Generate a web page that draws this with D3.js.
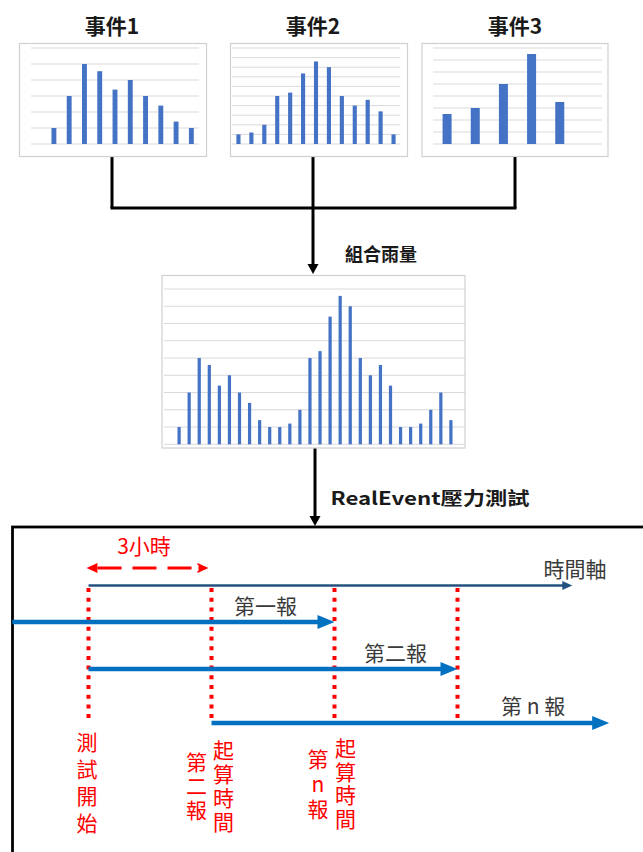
<!DOCTYPE html>
<html>
<head>
<meta charset="utf-8">
<script src="https://cdn.jsdelivr.net/npm/d3@7"></script>
<style>
  body { margin: 0; background: #fff; }
  svg { display: block; font-family: "Noto Sans CJK TC", "Noto Sans", sans-serif; }
</style>
</head>
<body>
<div id="chart"></div>
<script>
// ---------------------------------------------------------------------------
// Data

// rainfall per time step (grid units)
const event1Values = [0, 1, 3, 5, 4.55, 3.4, 4, 3, 2.4, 1.4, 1];
const event2Values = [1, 1.2, 2, 5, 5.35, 7.35, 8.6, 8, 5, 4, 4.6, 3.4, 1];
const event3Values = [2.5, 3, 5, 7.5, 3.5, 0];
const combinedValues = [0, 1, 3, 5, 4.6, 3.4, 4, 3, 2.4, 1.4, 1,
  1, 1.2, 2, 5, 5.4, 7.4, 8.6, 8, 5, 4, 4.6, 3.4,
  1, 1, 1.2, 2, 3, 1.4, 0];

const eventTitles = ['事件1', '事件2', '事件3'];
const eventGridMax = [6, 10, 8];
const combinedGridMax = 9;

// timeline (hours since test start)
const markerHours = [0, 3, 6, 9];
const axisEndHour = 11.8;
const reportLabels = ['第一報', '第二報', '第 n 報'];
const reportStartHours = [-1.86, 0, 3];
const reportEndHours = [6, 9, 12.7];
const markerNotes = [['測試開始'], ['第二報', '起算時間'], ['第n報', '起算時間'], []];

// ---------------------------------------------------------------------------
// Setup

const width = 643;
const height = 852;
const barColor = '#4472c4';
const gridColor = '#d9d9d9';
const red = '#ff0000';

const svg = d3.select('#chart').append('svg')
  .attr('width', width)
  .attr('height', height);

// ---------------------------------------------------------------------------
// Helpers

function barChart(values, gridMax, box, plot) {
  const g = svg.append('g');

  g.append('rect')
    .attr('x', box.x).attr('y', box.y)
    .attr('width', box.w).attr('height', box.h)
    .attr('fill', '#fff')
    .attr('stroke', '#d0d0d0')
    .attr('stroke-width', 1.2);

  const y = d3.scaleLinear().domain([0, gridMax]).range([plot.y1, plot.y0]);
  const x = d3.scaleBand()
    .domain(d3.range(values.length))
    .range([plot.x0, plot.x1])
    .paddingInner(0.68)
    .paddingOuter(0.34);

  g.selectAll('line.grid')
    .data(d3.range(0, gridMax + 1))
    .enter().append('line')
    .attr('class', 'grid')
    .attr('x1', plot.x0).attr('x2', plot.x1)
    .attr('y1', d => y(d)).attr('y2', d => y(d))
    .attr('stroke', gridColor)
    .attr('stroke-width', 1);

  g.selectAll('rect.bar')
    .data(values)
    .enter().append('rect')
    .attr('class', 'bar')
    .attr('x', (d, i) => x(i))
    .attr('width', x.bandwidth())
    .attr('y', d => y(d))
    .attr('height', d => y(0) - y(d))
    .attr('fill', barColor);
}

function arrow(x1, y1, x2, y2, color, strokeWidth, headLen, headW) {
  const len = Math.hypot(x2 - x1, y2 - y1);
  const ux = (x2 - x1) / len;
  const uy = (y2 - y1) / len;
  const bx = x2 - ux * headLen;
  const by = y2 - uy * headLen;
  svg.append('line')
    .attr('x1', x1).attr('y1', y1)
    .attr('x2', bx + ux * 1).attr('y2', by + uy * 1)
    .attr('stroke', color)
    .attr('stroke-width', strokeWidth);
  svg.append('path')
    .attr('d', `M${x2},${y2}L${bx - uy * headW / 2},${by + ux * headW / 2}L${bx + uy * headW / 2},${by - ux * headW / 2}Z`)
    .attr('fill', color);
}

function label(x, y, text, size, color, weight) {
  return svg.append('text')
    .attr('x', x).attr('y', y)
    .attr('text-anchor', 'middle')
    .attr('dominant-baseline', 'central')
    .attr('font-size', size)
    .attr('font-weight', weight || 'normal')
    .attr('fill', color)
    .text(text);
}

// ---------------------------------------------------------------------------
// Event charts

const eventBoxes = [
  {box: {x: 19.5, y: 43.5, w: 187, h: 113}, plot: {x0: 31, x1: 199, y0: 48, y1: 144}, cx: 112},
  {box: {x: 230.5, y: 43.5, w: 177, h: 113}, plot: {x0: 232, x1: 400, y0: 48, y1: 144}, cx: 313},
  {box: {x: 422, y: 43.5, w: 186, h: 113}, plot: {x0: 433, x1: 602, y0: 48, y1: 144}, cx: 515}
];
const eventValues = [event1Values, event2Values, event3Values];

// bracket joining the three events
const bracketY = 208;
eventBoxes.forEach(e => {
  svg.append('line')
    .attr('x1', e.cx).attr('x2', e.cx)
    .attr('y1', 156).attr('y2', bracketY)
    .attr('stroke', '#000').attr('stroke-width', 3);
});
svg.append('line')
  .attr('x1', eventBoxes[0].cx - 1.5).attr('x2', eventBoxes[2].cx + 1.5)
  .attr('y1', bracketY).attr('y2', bracketY)
  .attr('stroke', '#000').attr('stroke-width', 3);
arrow(313, bracketY, 313, 274, '#000', 3, 10, 11);

eventBoxes.forEach((e, i) => {
  barChart(eventValues[i], eventGridMax[i], e.box, e.plot);
  label(e.cx, 25, eventTitles[i], 21, '#1a1a1a', 'bold');
});

label(381, 253, '組合雨量', 18, '#1a1a1a', 'bold');

// ---------------------------------------------------------------------------
// Combined chart

arrow(315, 447, 315, 526, '#000', 3, 10, 11);
barChart(combinedValues, combinedGridMax,
  {x: 162, y: 275.5, w: 303, h: 172.5},
  {x0: 164, x1: 466, y0: 289, y1: 444.3});

label(430, 497, 'RealEvent壓力測試', 18, '#1a1a1a', 'bold')
  .attr('textLength', 199)
  .attr('lengthAdjust', 'spacingAndGlyphs');

// ---------------------------------------------------------------------------
// Timeline box

svg.append('rect')
  .attr('x', 12.5).attr('y', 527)
  .attr('width', 700).attr('height', 400)
  .attr('fill', 'none')
  .attr('stroke', '#000')
  .attr('stroke-width', 2.8);

const hour = d3.scaleLinear().domain([0, 9]).range([88.5, 457.5]);

// 3 hour span
label(144, 545, '3小時', 21, red);
arrow(hour(1.5), 568, hour(0) - 2, 568, red, 3, 11, 10);
arrow(hour(1.5), 568, hour(3) - 3, 568, red, 3, 11, 10);
svg.append('rect')
  .attr('x', hour(0) + 9).attr('y', 565)
  .attr('width', hour(3) - hour(0) - 22).attr('height', 6)
  .attr('fill', '#fff');
svg.append('line')
  .attr('x1', hour(0) + 9).attr('x2', hour(3) - 14)
  .attr('y1', 568).attr('y2', 568)
  .attr('stroke', red)
  .attr('stroke-width', 3)
  .attr('stroke-dasharray', '24 11');

// time axis
arrow(hour(0), 585.5, hour(axisEndHour), 585.5, '#24527e', 2.6, 10, 9);
label(575, 568, '時間軸', 21, '#3a3a3a');

// report issue markers
svg.selectAll('line.marker')
  .data(markerHours)
  .enter().append('line')
  .attr('class', 'marker')
  .attr('x1', d => hour(d)).attr('x2', d => hour(d))
  .attr('y1', 588).attr('y2', 721)
  .attr('stroke', red)
  .attr('stroke-width', 4)
  .attr('stroke-dasharray', '4 5.7');

// forecast report windows
const reportY = [622, 669, 723];
const labelDx = [-69, -62, -76];
const labelDy = [-17, -17, -18];
reportLabels.forEach((name, i) => {
  const x0 = hour(reportStartHours[i]);
  const x1 = hour(reportEndHours[i]);
  arrow(x0, reportY[i], x1, reportY[i], '#0070c0', 4.5, 17, 14);
  label(x1 + labelDx[i], reportY[i] + labelDy[i], name, 21, '#3a3a3a');
});

// vertical red notes under each marker (one vertical text per note)
const noteLayout = [
  [{dx: -1.5, y0: 742, step: 27}],
  [{dx: -15, y0: 762, step: 24}, {dx: 12, y0: 750, step: 24}],
  [{dx: -16.5, y0: 759, step: 25}, {dx: 11, y0: 748, step: 23.7}]
];
const noteSize = 21;
markerNotes.forEach((notes, m) => {
  notes.forEach((note, k) => {
    const lay = noteLayout[m][k];
    svg.append('text')
      .attr('x', hour(markerHours[m]) + lay.dx)
      .attr('y', lay.y0 - noteSize / 2)
      .attr('font-size', noteSize)
      .attr('fill', red)
      .style('writing-mode', 'vertical-rl')
      .style('text-orientation', 'upright')
      .style('letter-spacing', (lay.step - noteSize) + 'px')
      .text(note);
  });
});
</script>
</body>
</html>
